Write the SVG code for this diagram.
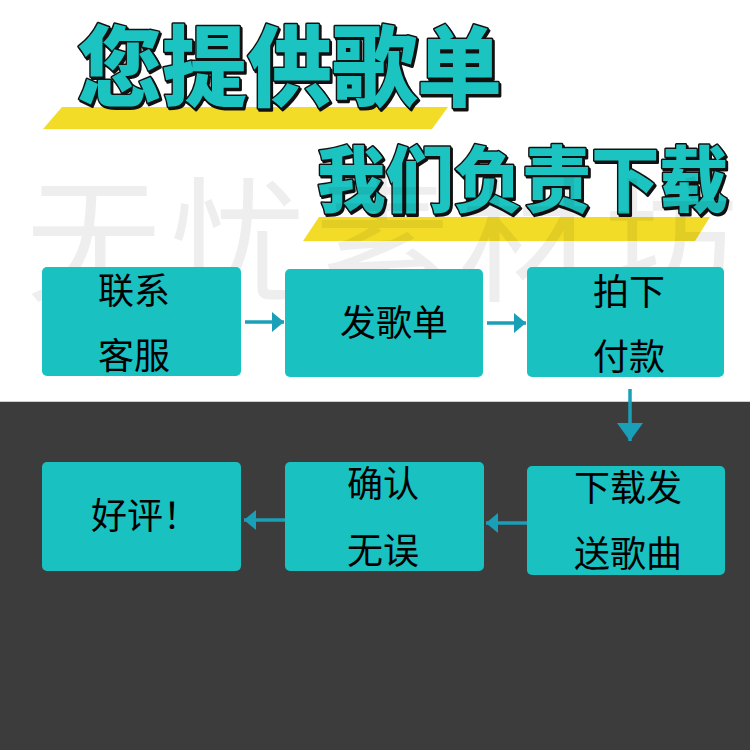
<svg xmlns="http://www.w3.org/2000/svg" width="750" height="750" viewBox="0 0 750 750">
<defs>
<style>
.box{fill:#19c1c1;}
.lbl{font-family:"Noto Sans CJK SC","Noto Sans",sans-serif;font-size:36px;fill:#000;}
.title{font-family:"Noto Sans CJK SC",sans-serif;font-weight:900;fill:#1cc4c1;stroke:#111;stroke-width:3;paint-order:stroke;stroke-linejoin:round;}
.shadow{font-family:"Noto Sans CJK SC",sans-serif;font-weight:900;fill:#111;stroke:#111;stroke-width:3;stroke-linejoin:round;}
.wm{font-family:"Noto Sans CJK SC",sans-serif;font-weight:400;font-size:135px;fill:#000;fill-opacity:0.065;}
.conn{stroke:#1a9fb9;stroke-width:3.5;fill:none;}
.band{fill:#f2dc27;}
</style>
<marker id="ah" viewBox="0 0 12 20" refX="12" refY="10" markerWidth="12" markerHeight="20" markerUnits="userSpaceOnUse" orient="auto">
<path d="M0,0 L12,10 L0,20 z" fill="#1a9fb9"/>
</marker>
<marker id="ahb" viewBox="0 0 18 26" refX="18" refY="13" markerWidth="18" markerHeight="26" markerUnits="userSpaceOnUse" orient="auto">
<path d="M0,0 L18,13 L0,26 z" fill="#1a9fb9"/>
</marker>
</defs>
<rect x="0" y="0" width="750" height="750" fill="#ffffff"/>
<rect x="0" y="401" width="750" height="349" fill="#3c3c3c"/>
<line x1="0" y1="401.5" x2="750" y2="401.5" stroke="#cfcfcf" stroke-width="1"/>

<g id="heading">
<polygon class="band" points="62,107 448,107 432,129 43,129"/>
<polygon class="band" points="319,217 710,217 695,241 303,241"/>
<text class="shadow" x="78.5" y="100.5" font-size="88" textLength="425" lengthAdjust="spacingAndGlyphs">您提供歌单</text>
<text class="title" x="77" y="99" font-size="88" textLength="425" lengthAdjust="spacingAndGlyphs">您提供歌单</text>
<text class="shadow" x="318.5" y="207.5" font-size="72" textLength="411" lengthAdjust="spacingAndGlyphs">我们负责下载</text>
<text class="title" x="317" y="206" font-size="72" textLength="411" lengthAdjust="spacingAndGlyphs">我们负责下载</text>
</g>

<text class="wm" x="26" y="291" textLength="712" lengthAdjust="spacing">无忧素材坊</text>

<g id="connectors">
<line class="conn" x1="245" y1="322" x2="284" y2="322" marker-end="url(#ah)"/>
<line class="conn" x1="487" y1="323" x2="526" y2="323" marker-end="url(#ah)"/>
<line class="conn" x1="630" y1="389" x2="630" y2="441" marker-end="url(#ahb)"/>
<line class="conn" x1="527" y1="523" x2="486" y2="523" marker-end="url(#ah)"/>
<line class="conn" x1="285" y1="520" x2="244" y2="520" marker-end="url(#ah)"/>
</g>

<g id="n1">
<rect class="box" x="42" y="267" width="199" height="109" rx="5"/>
<text class="lbl" x="98" y="304">联系</text>
<text class="lbl" x="98" y="369">客服</text>
</g>
<g id="n2">
<rect class="box" x="285" y="269" width="198" height="108" rx="5"/>
<text class="lbl" x="340" y="336">发歌单</text>
</g>
<g id="n3">
<rect class="box" x="527" y="267" width="197" height="110" rx="5"/>
<text class="lbl" x="593" y="305">拍下</text>
<text class="lbl" x="593" y="370">付款</text>
</g>
<g id="n4">
<rect class="box" x="527" y="466" width="198" height="109" rx="5"/>
<text class="lbl" x="574" y="501">下载发</text>
<text class="lbl" x="574" y="567">送歌曲</text>
</g>
<g id="n5">
<rect class="box" x="285" y="462" width="199" height="109" rx="5"/>
<text class="lbl" x="347" y="497">确认</text>
<text class="lbl" x="347" y="564">无误</text>
</g>
<g id="n6">
<rect class="box" x="42" y="462" width="199" height="109" rx="5"/>
<text class="lbl" x="91" y="529">好评！</text>
</g>
</svg>
